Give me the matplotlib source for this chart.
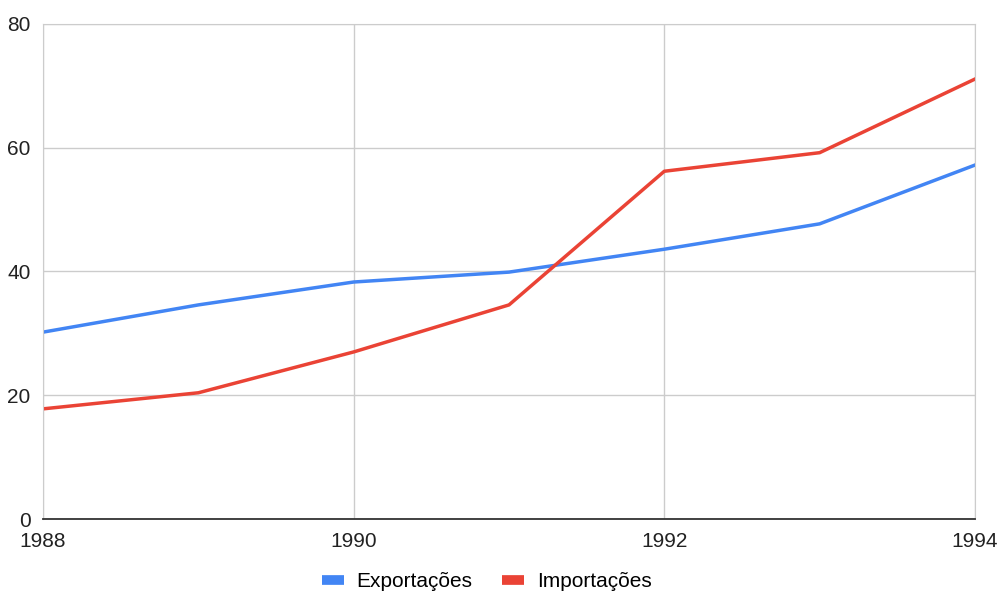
import matplotlib.pyplot as plt

years = [1988, 1989, 1990, 1991, 1992, 1993, 1994]
exportacoes = [30.2, 34.6, 38.3, 39.9, 43.6, 47.7, 57.2]
importacoes = [17.8, 20.4, 27.0, 34.6, 56.2, 59.2, 71.1]

plt.rcParams["font.family"] = ["Liberation Sans", "DejaVu Sans"]

fig = plt.figure(figsize=(10.01, 5.92), dpi=100)
ax = fig.add_axes([0.043, 0.1233, 0.931, 0.8362])

ax.plot(years, exportacoes, color="#4285f4", linewidth=2.5, label="Exportações")
ax.plot(years, importacoes, color="#ea4335", linewidth=2.5, label="Importações")

ax.set_xlim(1988, 1994)
ax.set_ylim(0, 80)
ax.set_xticks([1988, 1990, 1992, 1994])
ax.set_yticks([0, 20, 40, 60, 80])
ax.grid(True, color="#cccccc", linewidth=1)
ax.set_axisbelow(True)

for side in ["top", "left", "right"]:
    ax.spines[side].set_color("#cccccc")
ax.spines["bottom"].set_color("#333333")
ax.spines["bottom"].set_linewidth(1.3)
ax.tick_params(length=0, labelsize=15, colors="#222222")
ax.tick_params(axis="x", pad=9)
ax.tick_params(axis="y", pad=9)

fig.legend(loc="lower center", bbox_to_anchor=(0.486, -0.03), ncol=2, frameon=False,
           fontsize=15, handlelength=1.06, handleheight=0.5, handletextpad=0.62,
           columnspacing=1.4)
for line in fig.legends[0].get_lines():
    line.set_linewidth(7)
    line.set_solid_capstyle("butt")

fig.savefig("out.png", dpi=100)
